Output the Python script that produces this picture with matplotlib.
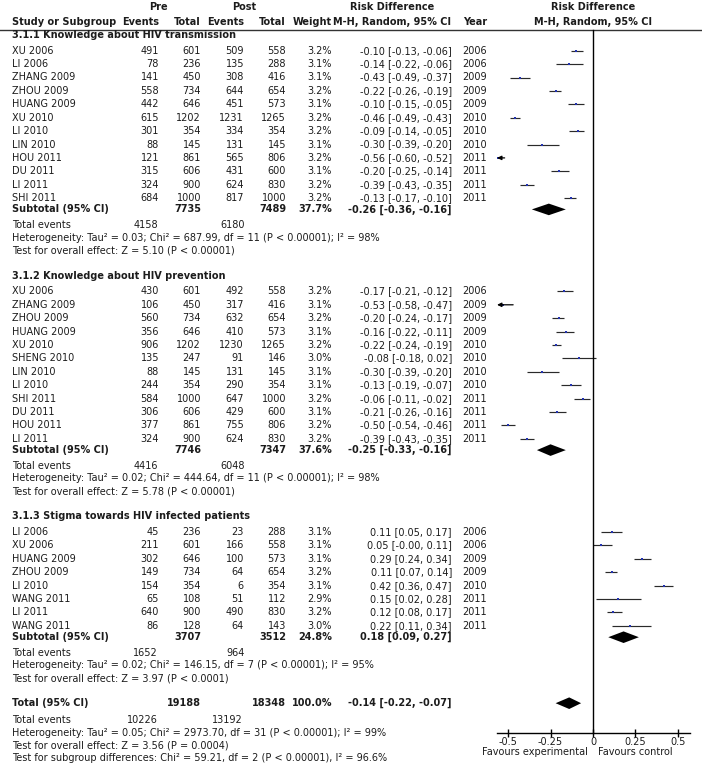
import matplotlib
matplotlib.use("Agg")
import matplotlib.pyplot as plt

# subgroup titles
group_titles = ["3.1.1 Knowledge about HIV transmission",
                "3.1.2 Knowledge about HIV prevention",
                "3.1.3 Stigma towards HIV infected patients"]

# 3.1.1 knowledge about transmission
trans_study = ["XU 2006", "LI 2006", "ZHANG 2009", "ZHOU 2009", "HUANG 2009", "XU 2010",
               "LI 2010", "LIN 2010", "HOU 2011", "DU 2011", "LI 2011", "SHI 2011"]
trans_pre_ev = [491, 78, 141, 558, 442, 615, 301, 88, 121, 315, 324, 684]
trans_pre_tot = [601, 236, 450, 734, 646, 1202, 354, 145, 861, 606, 900, 1000]
trans_post_ev = [509, 135, 308, 644, 451, 1231, 334, 131, 565, 431, 624, 817]
trans_post_tot = [558, 288, 416, 654, 573, 1265, 354, 145, 806, 600, 830, 1000]
trans_weight = [3.2, 3.1, 3.1, 3.2, 3.1, 3.2, 3.2, 3.1, 3.2, 3.1, 3.2, 3.2]
trans_rd = [-0.10, -0.14, -0.43, -0.22, -0.10, -0.46, -0.09, -0.30, -0.56, -0.20, -0.39, -0.13]
trans_lo = [-0.13, -0.22, -0.49, -0.26, -0.15, -0.49, -0.14, -0.39, -0.60, -0.25, -0.43, -0.17]
trans_hi = [-0.06, -0.06, -0.37, -0.19, -0.05, -0.43, -0.05, -0.20, -0.52, -0.14, -0.35, -0.10]
trans_year = [2006, 2006, 2009, 2009, 2009, 2010, 2010, 2010, 2011, 2011, 2011, 2011]

# 3.1.2 knowledge about prevention
prev_study = ["XU 2006", "ZHANG 2009", "ZHOU 2009", "HUANG 2009", "XU 2010", "SHENG 2010",
              "LIN 2010", "LI 2010", "SHI 2011", "DU 2011", "HOU 2011", "LI 2011"]
prev_pre_ev = [430, 106, 560, 356, 906, 135, 88, 244, 584, 306, 377, 324]
prev_pre_tot = [601, 450, 734, 646, 1202, 247, 145, 354, 1000, 606, 861, 900]
prev_post_ev = [492, 317, 632, 410, 1230, 91, 131, 290, 647, 429, 755, 624]
prev_post_tot = [558, 416, 654, 573, 1265, 146, 145, 354, 1000, 600, 806, 830]
prev_weight = [3.2, 3.1, 3.2, 3.1, 3.2, 3.0, 3.1, 3.1, 3.2, 3.1, 3.2, 3.2]
prev_rd = [-0.17, -0.53, -0.20, -0.16, -0.22, -0.08, -0.30, -0.13, -0.06, -0.21, -0.50, -0.39]
prev_lo = [-0.21, -0.58, -0.24, -0.22, -0.24, -0.18, -0.39, -0.19, -0.11, -0.26, -0.54, -0.43]
prev_hi = [-0.12, -0.47, -0.17, -0.11, -0.19, 0.02, -0.20, -0.07, -0.02, -0.16, -0.46, -0.35]
prev_year = [2006, 2009, 2009, 2009, 2010, 2010, 2010, 2010, 2011, 2011, 2011, 2011]

# 3.1.3 stigma
stig_study = ["LI 2006", "XU 2006", "HUANG 2009", "ZHOU 2009", "LI 2010", "WANG 2011",
              "LI 2011", "WANG 2011"]
stig_pre_ev = [45, 211, 302, 149, 154, 65, 640, 86]
stig_pre_tot = [236, 601, 646, 734, 354, 108, 900, 128]
stig_post_ev = [23, 166, 100, 64, 6, 51, 490, 64]
stig_post_tot = [288, 558, 573, 654, 354, 112, 830, 143]
stig_weight = [3.1, 3.1, 3.1, 3.2, 3.1, 2.9, 3.2, 3.0]
stig_rd = [0.11, 0.05, 0.29, 0.11, 0.42, 0.15, 0.12, 0.22]
stig_lo = [0.05, -0.00, 0.24, 0.07, 0.36, 0.02, 0.08, 0.11]
stig_hi = [0.17, 0.11, 0.34, 0.14, 0.47, 0.28, 0.17, 0.34]
stig_year = [2006, 2006, 2009, 2009, 2010, 2011, 2011, 2011]

# subtotals
sub_pre_tot = [7735, 7746, 3707]
sub_post_tot = [7489, 7347, 3512]
sub_weight = [37.7, 37.6, 24.8]
sub_rd = [-0.26, -0.25, 0.18]
sub_lo = [-0.36, -0.33, 0.09]
sub_hi = [-0.16, -0.16, 0.27]
sub_pre_ev = [4158, 4416, 1652]
sub_post_ev = [6180, 6048, 964]
sub_tau2 = [0.03, 0.02, 0.02]
sub_chi2 = [687.99, 444.64, 146.15]
sub_df = [11, 11, 7]
sub_i2 = [98, 98, 95]
sub_z = [5.10, 5.78, 3.97]
sub_zp = ["P < 0.00001", "P < 0.00001", "P < 0.0001"]

# overall
total_pre_tot = 19188
total_post_tot = 18348
total_weight = 100.0
total_rd, total_lo, total_hi = -0.14, -0.22, -0.07
total_pre_ev = 10226
total_post_ev = 13192
total_tau2, total_chi2, total_df, total_i2 = 0.05, 2973.70, 31, 99
total_z, total_zp = 3.56, "P = 0.0004"
subgroup_chi2, subgroup_df, subgroup_i2 = 59.21, 2, 96.6

x_ticks = [-0.5, -0.25, 0, 0.25, 0.5]
x_tick_labels = ["-0.5", "-0.25", "0", "0.25", "0.5"]

FS = 7
TXT = "#1c1c1c"
BLUE = "#2233b0"
# column anchors (pixels)
X_NAME, X_PRE_EV, X_PRE_TOT, X_POST_EV, X_POST_TOT, X_W = 12, 159, 201, 244, 286, 332
X_CI, X_YEAR = 452, 487


def ci_text(rd, lo, hi):
    return f"{rd:.2f} [{lo:.2f}, {hi:.2f}]"


def put(ax, x, y, s, ha="left", bold=False):
    ax.text(x, y, s, ha=ha, va="center", fontsize=FS, color=TXT,
            fontweight="bold" if bold else "normal")


def draw_study(ax, y, rd, lo, hi, w):
    xmin, xmax = ax.get_xlim()
    if lo < xmin:
        ax.annotate("", xy=(xmin, y), xytext=(hi, y),
                    arrowprops=dict(arrowstyle="-|>,head_length=0.25,head_width=0.12",
                                    color="k", lw=0.9, shrinkA=0, shrinkB=0))
    else:
        ax.plot([lo, hi], [y, y], color="#2a2a2a", lw=0.85, solid_capstyle="butt")
    if xmin < rd < xmax:
        ax.plot(rd, y, marker="s", ms=w * 0.65, color=BLUE, mec=BLUE, mew=0)


def draw_diamond(ax, y, rd, lo, hi):
    ax.fill([lo, rd, hi, rd], [y, y - 5.8, y, y + 5.8], color="k", lw=0)


def main():
    fig = plt.figure(figsize=(7.02, 7.70), dpi=100)
    tx = fig.add_axes([0, 0, 1, 1])
    tx.set_xlim(0, 702)
    tx.set_ylim(770, 0)
    tx.axis("off")

    # forest panel, shares pixel rows with the text axes
    px0, px1 = 497, 690
    ax = fig.add_axes([px0 / 702, 0, (px1 - px0) / 702, 1])
    ax.set_xlim(-0.565, 0.571)
    ax.set_ylim(770, 0)
    for s in ["top", "left", "right"]:
        ax.spines[s].set_visible(False)
    ax.patch.set_alpha(0)
    y_axis = 733.2

    # header
    put(tx, 158, 7.5, "Pre", ha="center", bold=True)
    put(tx, 244, 7.5, "Post", ha="center", bold=True)
    put(tx, 392, 7.5, "Risk Difference", ha="center", bold=True)
    put(tx, 593, 7.5, "Risk Difference", ha="center", bold=True)
    put(tx, X_NAME, 21.7, "Study or Subgroup", bold=True)
    put(tx, X_PRE_EV, 21.7, "Events", ha="right", bold=True)
    put(tx, X_PRE_TOT, 21.7, "Total", ha="right", bold=True)
    put(tx, X_POST_EV, 21.7, "Events", ha="right", bold=True)
    put(tx, X_POST_TOT, 21.7, "Total", ha="right", bold=True)
    put(tx, X_W, 21.7, "Weight", ha="right", bold=True)
    put(tx, 392, 21.7, "M-H, Random, 95% CI", ha="center", bold=True)
    put(tx, X_YEAR, 21.7, "Year", ha="right", bold=True)
    put(tx, 593, 21.7, "M-H, Random, 95% CI", ha="center", bold=True)
    tx.plot([0, 702], [29.5, 29.5], color="#333333", lw=1)

    groups = [
        (trans_study, trans_pre_ev, trans_pre_tot, trans_post_ev, trans_post_tot,
         trans_weight, trans_rd, trans_lo, trans_hi, trans_year),
        (prev_study, prev_pre_ev, prev_pre_tot, prev_post_ev, prev_post_tot,
         prev_weight, prev_rd, prev_lo, prev_hi, prev_year),
        (stig_study, stig_pre_ev, stig_pre_tot, stig_post_ev, stig_post_tot,
         stig_weight, stig_rd, stig_lo, stig_hi, stig_year),
    ]

    y = 35
    for g, grp in enumerate(groups):
        study, pre_ev, pre_tot, post_ev, post_tot, weight, rd, lo, hi, year = grp
        put(tx, X_NAME, y, group_titles[g], bold=True)
        y += 15.7
        for i in range(len(study)):
            put(tx, X_NAME, y, study[i])
            put(tx, X_PRE_EV, y, str(pre_ev[i]), ha="right")
            put(tx, X_PRE_TOT, y, str(pre_tot[i]), ha="right")
            put(tx, X_POST_EV, y, str(post_ev[i]), ha="right")
            put(tx, X_POST_TOT, y, str(post_tot[i]), ha="right")
            put(tx, X_W, y, f"{weight[i]:.1f}%", ha="right")
            put(tx, X_CI, y, ci_text(rd[i], lo[i], hi[i]), ha="right")
            put(tx, X_YEAR, y, str(year[i]), ha="right")
            draw_study(ax, y, rd[i], lo[i], hi[i], weight[i])
            y += 13.4
        y += 11.3 - 13.4
        # subtotal
        put(tx, X_NAME, y, "Subtotal (95% CI)", bold=True)
        put(tx, X_PRE_TOT, y, str(sub_pre_tot[g]), ha="right", bold=True)
        put(tx, X_POST_TOT, y, str(sub_post_tot[g]), ha="right", bold=True)
        put(tx, X_W, y, f"{sub_weight[g]:.1f}%", ha="right", bold=True)
        put(tx, X_CI, y, ci_text(sub_rd[g], sub_lo[g], sub_hi[g]), ha="right", bold=True)
        draw_diamond(ax, y, sub_rd[g], sub_lo[g], sub_hi[g])
        y += 16
        put(tx, X_NAME, y, "Total events")
        put(tx, 158, y, str(sub_pre_ev[g]), ha="right")
        put(tx, 245, y, str(sub_post_ev[g]), ha="right")
        y += 12.3
        put(tx, X_NAME, y, f"Heterogeneity: Tau\u00b2 = {sub_tau2[g]:.2f}; Chi\u00b2 = {sub_chi2[g]:.2f}, "
                           f"df = {sub_df[g]} (P < 0.00001); I\u00b2 = {sub_i2[g]}%")
        y += 12.7
        put(tx, X_NAME, y, f"Test for overall effect: Z = {sub_z[g]:.2f} ({sub_zp[g]})")
        y += 25.3

    # overall total
    y -= 0.3
    put(tx, X_NAME, y, "Total (95% CI)", bold=True)
    put(tx, X_PRE_TOT, y, str(total_pre_tot), ha="right", bold=True)
    put(tx, X_POST_TOT, y, str(total_post_tot), ha="right", bold=True)
    put(tx, X_W, y, f"{total_weight:.1f}%", ha="right", bold=True)
    put(tx, X_CI, y, ci_text(total_rd, total_lo, total_hi), ha="right", bold=True)
    draw_diamond(ax, y, total_rd, total_lo, total_hi)
    y += 17
    put(tx, X_NAME, y, "Total events")
    put(tx, 158, y, str(total_pre_ev), ha="right")
    put(tx, 243, y, str(total_post_ev), ha="right")
    y += 12.5
    put(tx, X_NAME, y, f"Heterogeneity: Tau\u00b2 = {total_tau2:.2f}; Chi\u00b2 = {total_chi2:.2f}, "
                       f"df = {total_df} (P < 0.00001); I\u00b2 = {total_i2}%")
    y += 12.7
    put(tx, X_NAME, y, f"Test for overall effect: Z = {total_z:.2f} ({total_zp})")
    y += 13
    put(tx, X_NAME, y, f"Test for subgroup differences: Chi\u00b2 = {subgroup_chi2:.2f}, "
                       f"df = {subgroup_df} (P < 0.00001), I\u00b2 = {subgroup_i2}%")

    # zero line and x axis
    ax.plot([0, 0], [29.5, y_axis], color="k", lw=1)
    ax.spines["bottom"].set_position(("data", y_axis))
    ax.spines["bottom"].set_linewidth(1)
    ax.set_yticks([])
    ax.set_xticks(x_ticks)
    ax.set_xticklabels(x_tick_labels)
    ax.tick_params(axis="x", direction="inout", length=6, width=1, labelsize=FS,
                   pad=0, labelcolor=TXT)
    put(tx, 588, 752.3, "Favours experimental", ha="right")
    put(tx, 598, 752.3, "Favours control")

    fig.savefig("out.png", dpi=100)


if __name__ == "__main__":
    main()
